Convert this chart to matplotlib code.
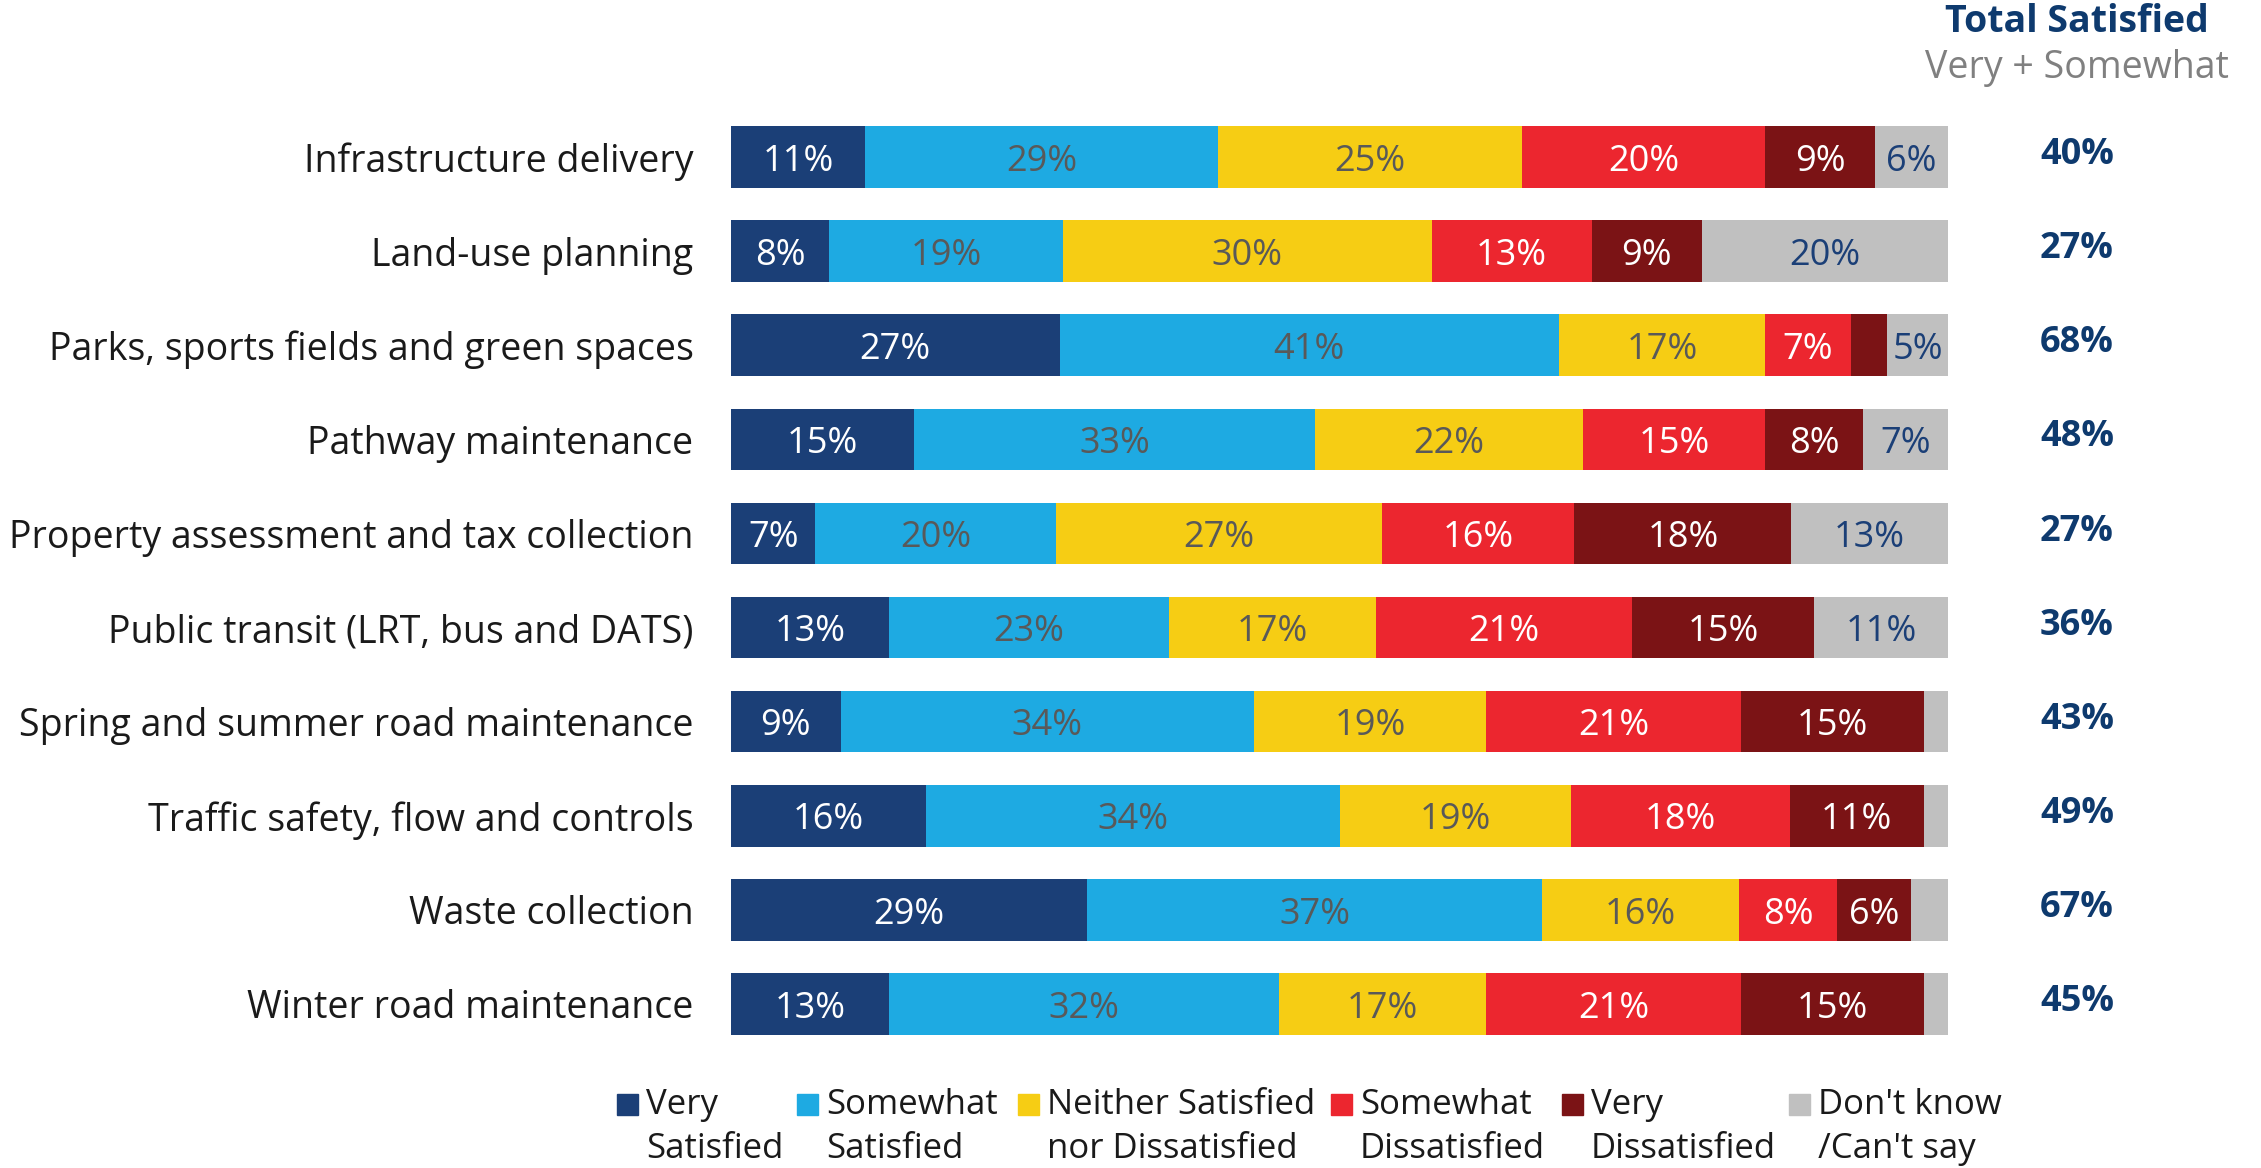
import matplotlib
matplotlib.use("Agg")
import matplotlib.pyplot as plt
from matplotlib.patches import Rectangle
import numpy as np

plt.rcParams['font.family'] = ['Open Sans', 'DejaVu Sans']

categories = [
    "Infrastructure delivery",
    "Land-use planning",
    "Parks, sports fields and green spaces",
    "Pathway maintenance",
    "Property assessment and tax collection",
    "Public transit (LRT, bus and DATS)",
    "Spring and summer road maintenance",
    "Traffic safety, flow and controls",
    "Waste collection",
    "Winter road maintenance",
]
series_names = ["Very\nSatisfied", "Somewhat\nSatisfied", "Neither Satisfied\nnor Dissatisfied",
                "Somewhat\nDissatisfied", "Very\nDissatisfied", "Don't know\n/Can't say"]
very_satisfied = [11, 8, 27, 15, 7, 13, 9, 16, 29, 13]
somewhat_satisfied = [29, 19, 41, 33, 20, 23, 34, 34, 37, 32]
neither = [25, 30, 17, 22, 27, 17, 19, 19, 16, 17]
somewhat_dissatisfied = [20, 13, 7, 15, 16, 21, 21, 18, 8, 21]
very_dissatisfied = [9, 9, 3, 8, 18, 15, 15, 11, 6, 15]
dont_know = [6, 20, 5, 7, 13, 11, 2, 2, 3, 2]
total_satisfied = [40, 27, 68, 48, 27, 36, 43, 49, 67, 45]

series = [very_satisfied, somewhat_satisfied, neither, somewhat_dissatisfied, very_dissatisfied, dont_know]
colors = ["#1B3F77", "#1EAAE2", "#F6CD14", "#EC262F", "#7B1315", "#C0C0C0"]
text_colors = ["white", "#595959", "#595959", "white", "white", "#1B3F77"]
navy = "#0E3A6E"

W, H = 2261, 1168
fig = plt.figure(figsize=(W / 100, H / 100), dpi=100)
ax = fig.add_axes([731 / W, 1 - 1051 / H, (1948 - 731) / W, (1051 - 110) / H])

data = np.array(series, dtype=float)
totals = data.sum(axis=0)
pct = data / totals * 100
y = np.arange(len(categories))
left = np.zeros(len(categories))
for i in range(len(series)):
    ax.barh(y, pct[i], left=left, height=0.655, color=colors[i], edgecolor="none")
    for j in range(len(categories)):
        v = series[i][j]
        if v >= 4:
            ax.text(left[j] + pct[i][j] / 2, y[j] + 0.05, f"{v}%", ha="center", va="center",
                    fontsize=26, color=text_colors[i])
    left += pct[i]

ax.set_xlim(0, 100)
ax.set_ylim(len(categories) - 0.5, -0.5)
ax.set_yticks(y)
ax.set_yticklabels(categories, fontsize=27, color="#1A1A1A")
ax.tick_params(axis="y", length=0, pad=27)
ax.set_xticks([])
for s in ax.spines.values():
    s.set_visible(False)

# Total satisfied column
tx = (2077 - 731) / (1948 - 731)
for j in range(len(categories)):
    ax.text(tx, y[j] - 0.02, f"{total_satisfied[j]}%", transform=ax.get_yaxis_transform(),
            ha="center", va="center", fontsize=26, fontweight="bold", color=navy)
fig.text(2077 / W, 1 - 22 / H, "Total Satisfied", ha="center", va="center",
         fontsize=27, fontweight="bold", color=navy)
fig.text(2077 / W, 1 - 68 / H, "Very + Somewhat", ha="center", va="center",
         fontsize=27, color="#808080")

# Legend
leg_x = [617, 797, 1018, 1331, 1562, 1789]
sq = 21
for i in range(len(series)):
    fig.patches.append(Rectangle((leg_x[i] / W, 1 - (1104 + sq / 2) / H), sq / W, sq / H,
                                 transform=fig.transFigure, color=colors[i]))
    fig.text((leg_x[i] + sq + 8) / W, 1 - 1088 / H, series_names[i], ha="left", va="top",
             fontsize=25, color="#1A1A1A", linespacing=1.4)

fig.savefig("out.png", dpi=100, facecolor="white")
